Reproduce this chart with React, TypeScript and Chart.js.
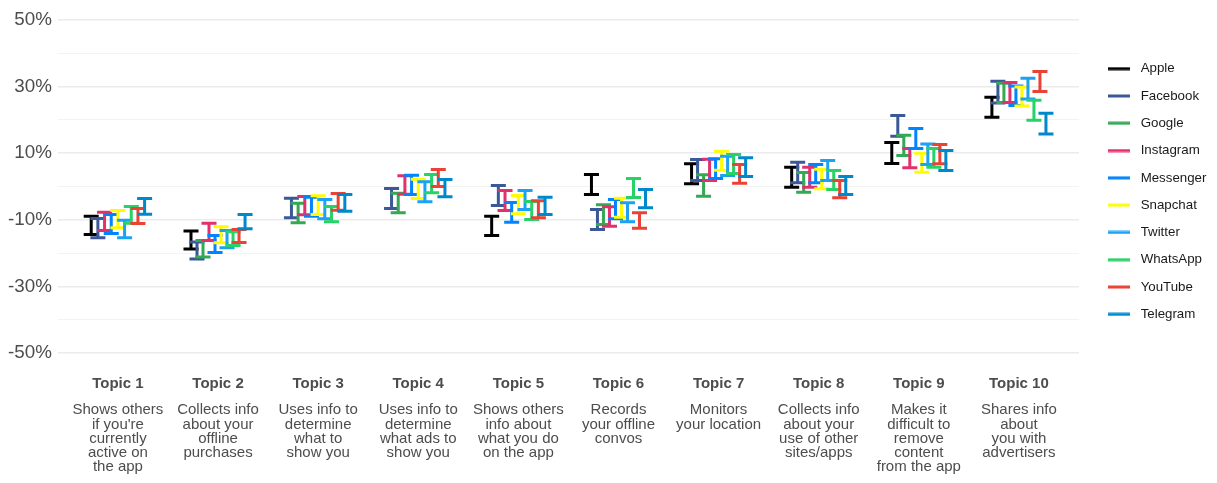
import React, { useEffect, useRef } from 'react';
import { Chart, registerables } from 'chart.js';

Chart.register(...registerables);

// Companies (one series each) and their brand colours
const companies = ['Apple', 'Facebook', 'Google', 'Instagram', 'Messenger', 'Snapchat', 'Twitter', 'WhatsApp', 'YouTube', 'Telegram'];
const companyColors = ['#000000', '#3b5998', '#34a853', '#e1306c', '#0084ff', '#fffc00', '#1da1f2', '#25d366', '#ea4335', '#0088cc'];

// Category labels
const topicTitles = ['Topic 1', 'Topic 2', 'Topic 3', 'Topic 4', 'Topic 5', 'Topic 6', 'Topic 7', 'Topic 8', 'Topic 9', 'Topic 10'];
const topicDescriptions = [
  ['Shows others', "if you're", 'currently', 'active on', 'the app'],
  ['Collects info', 'about your', 'offline', 'purchases'],
  ['Uses info to', 'determine', 'what to', 'show you'],
  ['Uses info to', 'determine', 'what ads to', 'show you'],
  ['Shows others', 'info about', 'what you do', 'on the app'],
  ['Records', 'your offline', 'convos'],
  ['Monitors', 'your location'],
  ['Collects info', 'about your', 'use of other', 'sites/apps'],
  ['Makes it', 'difficult to', 'remove', 'content', 'from the app'],
  ['Shares info', 'about', 'you with', 'advertisers'],
];

// Y-axis ticks (percent); labelled every 20, gridline every 10
const yTicks = [-50, -40, -30, -20, -10, 0, 10, 20, 30, 40, 50];
const yLabelled = [-50, -30, -10, 10, 30, 50];

// Interval per topic: [low, high] in percent, null where not asked
type Range = [number, number] | null;
const apple: Range[] = [[-14.4, -8.9], [-18.8, -13.4], null, null, [-14.7, -8.9], [-2.4, 3.6], [0.8, 6.8], [-0.2, 5.8], [6.9, 13.2], [20.8, 26.8]];
const facebook: Range[] = [[-15.4, -9.6], [-21.8, -16.7], [-9.4, -3.5], [-6.6, -0.6], [-5.7, 0.3], [-12.9, -6.9], [1.8, 8.1], [1.1, 7.3], [15.1, 21.3], [25.1, 31.6]];
const google: Range[] = [null, [-21.2, -16.2], [-10.9, -5.0], [-7.9, -2.0], null, [-11.4, -5.5], [-2.9, 3.5], [-1.7, 4.2], [9.3, 15.4], [25.2, 31.0]];
const instagram: Range[] = [[-13.2, -7.7], [-16.2, -11.0], [-8.5, -3.0], [-2.3, 3.2], [-7.2, -1.2], [-11.9, -6.1], [1.8, 8.2], [-0.2, 5.8], [5.6, 11.4], [25.2, 31.2]];
const messenger: Range[] = [[-14.1, -8.4], [-19.8, -14.7], [-8.9, -3.2], [-2.4, 3.4], [-10.7, -4.8], [-9.7, -3.9], [2.4, 8.3], [1.1, 6.6], [11.4, 17.4], [24.3, 30.2]];
const snapchat: Range[] = [[-12.4, -7.2], [-16.9, -12.1], [-8.4, -2.8], [-3.6, 2.2], [-8.2, -2.7], [-9.2, -3.5], [4.9, 10.6], [-0.7, 5.2], [4.3, 10.0], [24.2, 29.9]];
const twitter: Range[] = [[-15.4, -10.1], [-18.4, -13.2], [-9.7, -3.9], [-4.6, 1.4], [-6.9, -1.2], [-10.6, -4.9], [3.3, 9.1], [1.8, 7.8], [6.6, 12.8], [26.3, 32.5]];
const whatsapp: Range[] = [[-11.0, -6.0], [-17.7, -13.6], [-10.6, -6.0], [-1.9, 3.6], [-9.9, -4.5], [-3.3, 2.4], [3.9, 9.6], [-0.9, 4.8], [5.8, 11.4], [19.9, 25.9]];
const youtube: Range[] = [[-11.1, -6.6], [-16.8, -12.9], [-7.1, -2.1], [0.0, 5.1], [-9.4, -4.3], [-12.5, -7.9], [1.0, 6.6], [-3.4, 1.8], [6.8, 12.6], [28.5, 34.5]];
const telegram: Range[] = [[-8.3, -3.6], [-12.7, -8.4], [-7.4, -2.4], [-3.1, 2.1], [-8.4, -3.2], [-6.4, -0.9], [3.0, 8.6], [-2.4, 3.0], [4.8, 10.8], [15.8, 22.0]];

const seriesRanges: Range[][] = [apple, facebook, google, instagram, messenger, snapchat, twitter, whatsapp, youtube, telegram];

const FONT = "'Liberation Sans', Arial, Helvetica, sans-serif";
const DODGE_WIDTH = 0.6; // total width (x units) shared by the bars of one topic
const CAP_HALF = 0.075; // half width of an error-bar cap, x units
const BAR_LINE = 3;

type Pt = { x: number; y: number; lo: number; hi: number };

// Dodge the series present in each topic side by side around the topic's index
function buildSeriesPoints(): Pt[][] {
  const out: Pt[][] = seriesRanges.map(() => []);
  topicTitles.forEach((_, t) => {
    const present = seriesRanges.map((r, s) => (r[t] ? s : -1)).filter((s) => s >= 0);
    const n = present.length;
    const step = DODGE_WIDTH / n;
    present.forEach((s, k) => {
      const [lo, hi] = seriesRanges[s][t] as [number, number];
      out[s].push({ x: t + (k - (n - 1) / 2) * step, y: (lo + hi) / 2, lo, hi });
    });
  });
  return out;
}

const errorBarPlugin = {
  id: 'errorBars',
  afterDatasetsDraw(chart: any) {
    const { ctx } = chart;
    const xs = chart.scales.x;
    const ys = chart.scales.y;
    ctx.save();
    ctx.lineWidth = BAR_LINE;
    ctx.lineCap = 'butt';
    chart.data.datasets.forEach((ds: any, di: number) => {
      if (!chart.isDatasetVisible(di)) return;
      ctx.strokeStyle = ds.borderColor;
      ds.data.forEach((p: Pt) => {
        const px = xs.getPixelForValue(p.x);
        const half = xs.getPixelForValue(p.x + CAP_HALF) - px;
        const top = ys.getPixelForValue(p.hi);
        const bot = ys.getPixelForValue(p.lo);
        ctx.beginPath();
        ctx.moveTo(px, top);
        ctx.lineTo(px, bot);
        ctx.moveTo(px - half, top);
        ctx.lineTo(px + half, top);
        ctx.moveTo(px - half, bot);
        ctx.lineTo(px + half, bot);
        ctx.stroke();
      });
    });
    ctx.restore();
  },
};

// Legend swatch: a short horizontal stroke with blank lead-in space
function makeSwatch(color: string): HTMLCanvasElement {
  const c = document.createElement('canvas');
  c.width = 41;
  c.height = 4;
  const g = c.getContext('2d')!;
  g.fillStyle = color;
  g.fillRect(15, 0.5, 22, 3);
  return c;
}

export default function App() {
  const canvasRef = useRef<HTMLCanvasElement | null>(null);

  useEffect(() => {
    if (!canvasRef.current) return;
    const points = buildSeriesPoints();
    const swatches = companyColors.map(makeSwatch);
    const topicAxisTicks = (axis: any) => {
      axis.ticks = topicTitles.map((_, i) => ({ value: i }));
    };

    const chart = new Chart(canvasRef.current, {
      type: 'scatter',
      data: {
        datasets: companies.map((name, i) => ({
          label: name,
          data: points[i],
          borderColor: companyColors[i],
          backgroundColor: companyColors[i],
          pointRadius: 0,
          pointHoverRadius: 0,
          showLine: false,
        })),
      },
      plugins: [errorBarPlugin],
      options: {
        animation: false,
        responsive: true,
        maintainAspectRatio: false,
        events: [],
        layout: { padding: { top: 12, right: 0, bottom: 94, left: -6 } },
        scales: {
          x: {
            type: 'linear',
            position: 'bottom',
            weight: 0,
            min: -0.6,
            max: 9.6,
            afterBuildTicks: topicAxisTicks,
            grid: { display: false, drawTicks: false },
            border: { display: false },
            ticks: {
              autoSkip: false,
              maxRotation: 0,
              padding: 23,
              color: '#4d4d4d',
              font: { family: FONT, size: 15, weight: 'bold', lineHeight: 1 },
              callback: (v: any) => topicTitles[v as number] ?? '',
            },
          },
          x2: {
            type: 'linear',
            axis: 'x',
            position: 'bottom',
            weight: 1,
            min: -0.6,
            max: 9.6,
            afterBuildTicks: topicAxisTicks,
            grid: { display: false, drawTicks: false },
            border: { display: false },
            ticks: {
              autoSkip: false,
              maxRotation: 0,
              mirror: true,
              padding: -3.3,
              color: '#4d4d4d',
              font: { family: FONT, size: 15, lineHeight: 0.953 },
              callback: (v: any) => topicDescriptions[v as number] ?? '',
            },
          },
          y: {
            type: 'linear',
            min: -50,
            max: 50,
            afterBuildTicks: (axis: any) => {
              axis.ticks = yTicks.map((v) => ({ value: v }));
            },
            grid: {
              drawTicks: false,
              color: (c: any) => (yLabelled.includes(c.tick?.value) ? '#ebebeb' : '#f3f3f3'),
              lineWidth: (c: any) => (yLabelled.includes(c.tick?.value) ? 1.6 : 1),
            },
            border: { display: false },
            ticks: {
              autoSkip: false,
              padding: 6,
              color: '#4d4d4d',
              font: { family: FONT, size: 18.8, lineHeight: 0.6 },
              callback: (v: any) => (yLabelled.includes(v) ? `${v}%` : ''),
            },
          },
        },
        plugins: {
          tooltip: { enabled: false },
          legend: {
            position: 'right',
            fullSize: false,
            maxWidth: 130,
            title: { display: true, text: '', font: { size: 10, lineHeight: 1 }, padding: 0 },
            labels: {
              usePointStyle: true,
              pointStyleWidth: 41,
              padding: 14,
              color: '#1a1a1a',
              font: { family: FONT, size: 13.3 },
              generateLabels: (ch: any) =>
                ch.data.datasets.map((ds: any, i: number) => ({
                  text: ds.label,
                  pointStyle: swatches[i],
                  fillStyle: companyColors[i],
                  strokeStyle: companyColors[i],
                  lineWidth: 0,
                  hidden: false,
                  datasetIndex: i,
                  fontColor: '#1a1a1a',
                })),
            },
          },
        },
      } as any,
    });

    return () => chart.destroy();
  }, []);

  return (
    <div style={{ position: 'relative', width: '100%', height: 500, marginBottom: -33 }}>
      <canvas ref={canvasRef} />
    </div>
  );
}
